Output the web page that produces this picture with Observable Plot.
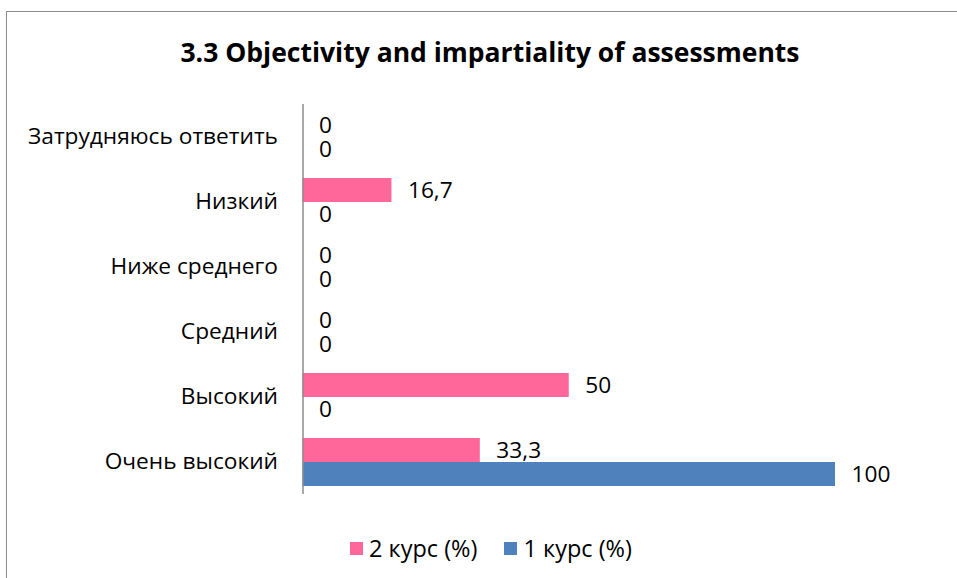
<!DOCTYPE html>
<html>
<head>
<meta charset="utf-8">
<script src="https://cdn.jsdelivr.net/npm/d3@7"></script>
<script src="https://cdn.jsdelivr.net/npm/@observablehq/plot@0.6"></script>
<style>
  html, body { margin: 0; padding: 0; background: #fff; }
  #wrap { position: relative; width: 957px; height: 578px; overflow: hidden; font-family: "Open Sans", sans-serif; color: #000; }
  #frame { position: absolute; left: 6px; top: 11px; width: 1000px; height: 700px; border-left: 1.5px solid #8c8c8c; border-top: 1.5px solid #8c8c8c; }
  #title { position: absolute; left: 0; width: 980px; top: 33px; text-align: center; font-weight: 700; font-size: 26.5px; line-height: 38px; }
  #chart { position: absolute; left: 0; top: 90px; }
  #legend { position: absolute; left: 350px; top: 532px; display: flex; align-items: center; font-size: 23.5px; line-height: 32px; }
  .sw { display: inline-block; width: 13px; height: 13px; margin-right: 6px; }
  .item { display: flex; align-items: center; margin-right: 27px; }
</style>
</head>
<body>
<div id="wrap">
  <div id="frame"></div>
  <div id="title"></div>
  <div id="chart"></div>
  <div id="legend"></div>
</div>
<script>
const title = "3.3 Objectivity and impartiality of assessments";
const categories = ["Затрудняюсь ответить", "Низкий", "Ниже среднего", "Средний", "Высокий", "Очень высокий"];
const series = ["2 курс (%)", "1 курс (%)"];
const course2 = [0, 16.7, 0, 0, 50, 33.3];
const course1 = [0, 0, 0, 0, 0, 100];
const colors = ["#FF6699", "#4F81BD"];

const values = [course2, course1];
const data = categories.flatMap((c, i) => series.map((s, j) => ({category: c, series: s, value: values[j][i]})));
const fmt = v => String(v).replace(".", ",");

document.getElementById("title").textContent = title;

const chart = Plot.plot({
  width: 957,
  height: 420,
  marginTop: 14,
  marginBottom: 16,
  marginLeft: 302.5,
  marginRight: 122,
  style: {fontFamily: "Open Sans", fontSize: "22.7px", color: "#000", background: "transparent"},
  x: {domain: [0, 100], axis: null},
  y: {domain: series, axis: null, paddingInner: 0, paddingOuter: 0.354},
  fy: {domain: categories, padding: 0, label: null, axis: "left", tickSize: 0, tickPadding: 25},
  color: {domain: series, range: colors},
  marks: [
    Plot.barX(data, {x: "value", y: "series", fy: "category", fill: "series"}),
    Plot.ruleX([0], {stroke: "#8c8c8c", strokeWidth: 1.5}),
    Plot.text(data, {x: "value", y: "series", fy: "category", text: d => fmt(d.value), dx: 16, textAnchor: "start", fill: "#000"})
  ]
});
document.getElementById("chart").appendChild(chart);

const legend = document.getElementById("legend");
series.forEach((s, i) => {
  const item = document.createElement("div");
  item.className = "item";
  const sw = document.createElement("span");
  sw.className = "sw";
  sw.style.background = colors[i];
  const t = document.createElement("span");
  t.textContent = s;
  item.appendChild(sw);
  item.appendChild(t);
  legend.appendChild(item);
});
</script>
</body>
</html>
